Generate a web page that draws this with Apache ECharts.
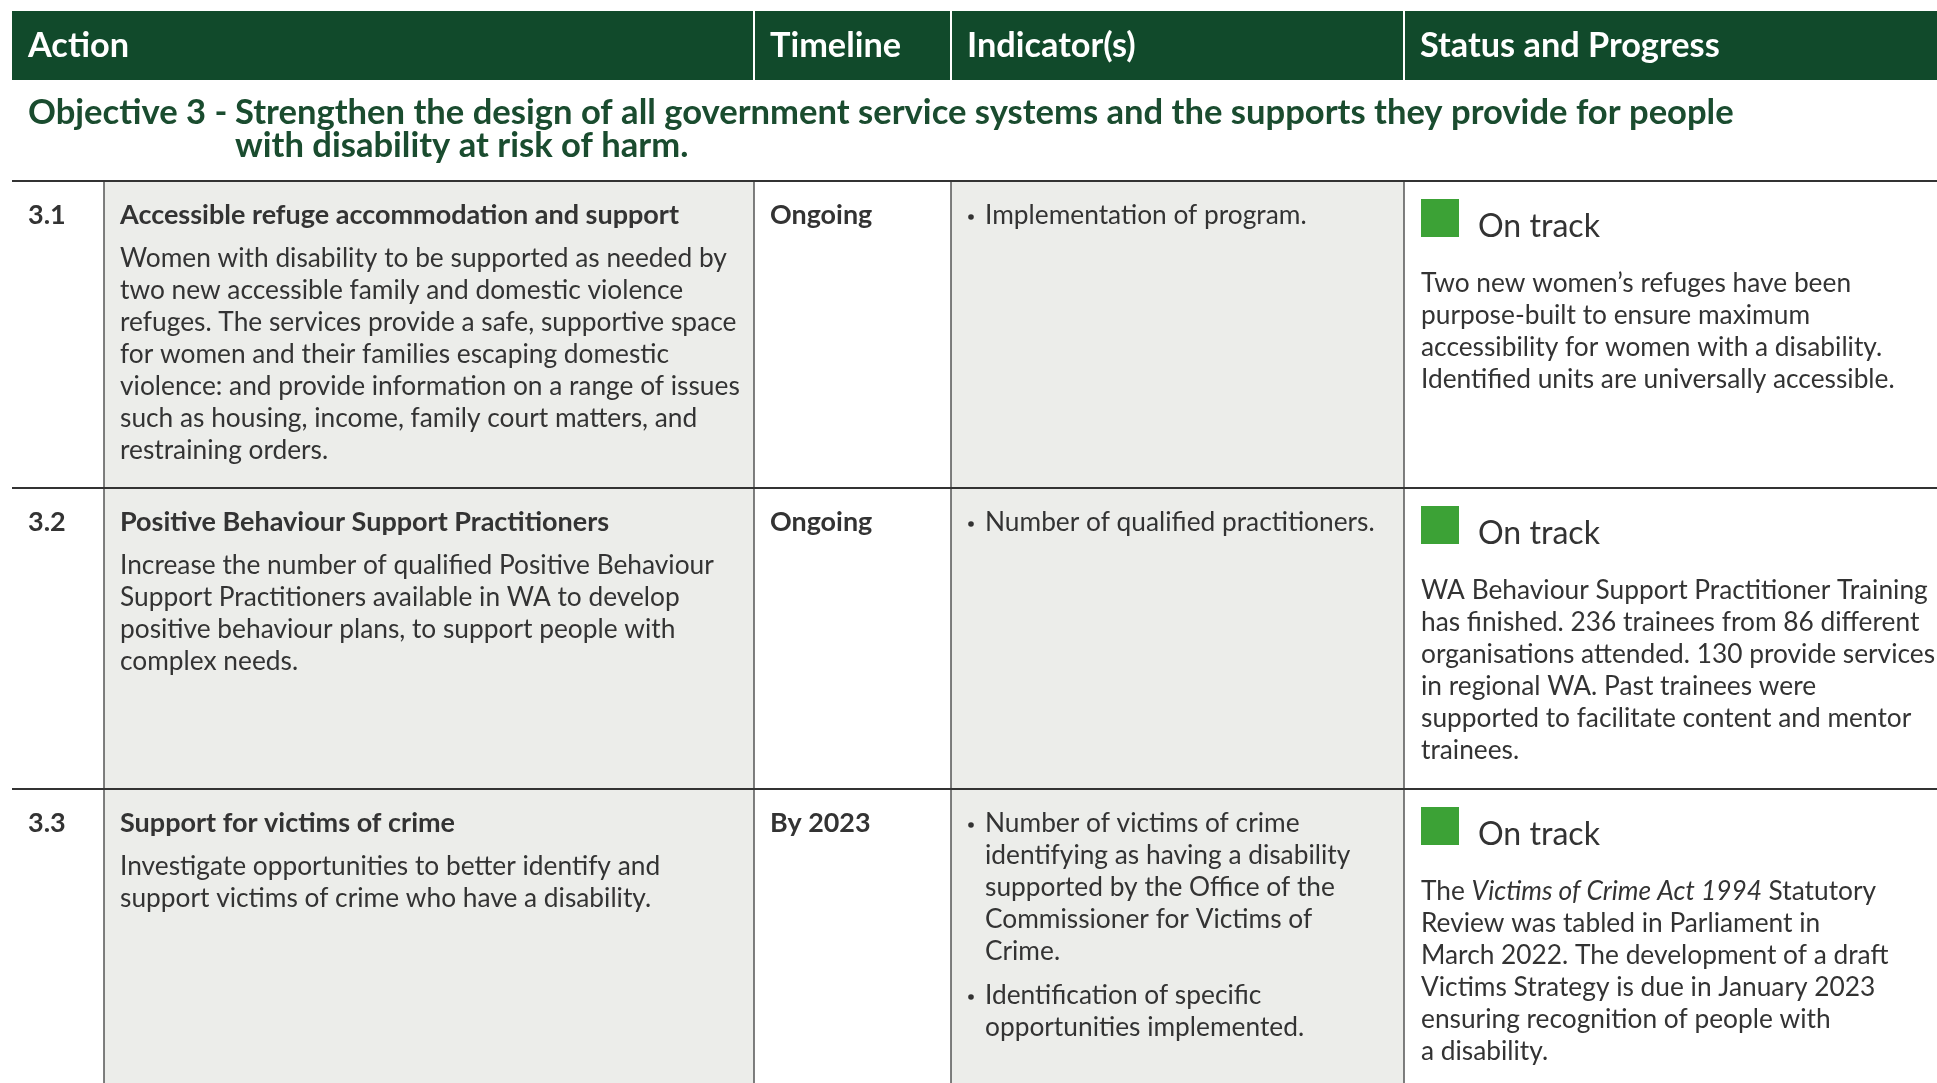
<!DOCTYPE html>
<html>
<head>
<meta charset="utf-8">
<script src="https://cdn.jsdelivr.net/npm/echarts@6/dist/echarts.min.js"></script>
<style>
html,body{margin:0;padding:0;background:#ffffff;}
#chart{width:1937px;height:1083px;}
</style>
</head>
<body>
<div id="chart"></div>
<script>
// ---------------- DATA ----------------
const headers = ['Action', 'Timeline', 'Indicator(s)', 'Status and Progress'];
const objectiveLabel = 'Objective 3 -';
const objectiveLines = [
  'Strengthen the design of all government service systems and the supports they provide for people',
  'with disability at risk of harm.'
];
const actionIds = ['3.1', '3.2', '3.3'];
const actionTitles = [
  'Accessible refuge accommodation and support',
  'Positive Behaviour Support Practitioners',
  'Support for victims of crime'
];
const actionDescriptions = [
  ['Women with disability to be supported as needed by',
   'two new accessible family and domestic violence',
   'refuges. The services provide a safe, supportive space',
   'for women and their families escaping domestic',
   'violence: and provide information on a range of issues',
   'such as housing, income, family court matters, and',
   'restraining orders.'],
  ['Increase the number of qualified Positive Behaviour',
   'Support Practitioners available in WA to develop',
   'positive behaviour plans, to support people with',
   'complex needs.'],
  ['Investigate opportunities to better identify and',
   'support victims of crime who have a disability.']
];
const timelines = ['Ongoing', 'Ongoing', 'By 2023'];
const indicators = [
  [['Implementation of program.']],
  [['Number of qualified practitioners.']],
  [['Number of victims of crime',
    'identifying as having a disability',
    'supported by the Office of the',
    'Commissioner for Victims of',
    'Crime.'],
   ['Identification of specific',
    'opportunities implemented.']]
];
const statuses = ['On track', 'On track', 'On track'];
const progressNotes = [
  ['Two new women\u2019s refuges have been',
   'purpose-built to ensure maximum',
   'accessibility for women with a disability.',
   'Identified units are universally accessible.'],
  ['WA Behaviour Support Practitioner Training',
   'has finished. 236 trainees from 86 different',
   'organisations attended. 130 provide services',
   'in regional WA. Past trainees were',
   'supported to facilitate content and mentor',
   'trainees.'],
  ['The {i|Victims of Crime Act 1994} Statutory',
   'Review was tabled in Parliament in',
   'March 2022. The development of a draft',
   'Victims Strategy is due in January 2023',
   'ensuring recognition of people with',
   'a disability.']
];

// ---------------- LAYOUT / STYLE ----------------
const W = 1937, H = 1083;
const L = {
  headerTop: 11, headerBottom: 80,
  headerCols: [12, 754, 951, 1404, W],
  bodyCols: [12, 104, 754, 951, 1404, W],
  rowTops: [181, 488, 789],
  tableBottom: H + 40,
  lineH: 32
};
const C = {
  header: '#114a2b', objective: '#1a4c2f', text: '#333333',
  shade: '#ecedea', rule: '#333333', vrule: '#555555',
  status: '#3ca236', white: '#ffffff'
};
const FONT = 'Lato';

// fit font sizes to the reference's text widths
const mctx = document.createElement('canvas').getContext('2d');
function fit(weight, samples) {
  let s = 0;
  samples.forEach(function (p) {
    mctx.font = weight + ' 100px ' + FONT;
    s += 100 * p[1] / mctx.measureText(p[0]).width;
  });
  return Math.round(s / samples.length * 10) / 10;
}
const S = {
  header: fit('bold', [['Action', 99], ['Timeline', 127], ['Indicator(s)', 175], ['Status and Progress', 304]]),
  objective: fit('bold', [[objectiveLabel + ' ' + objectiveLines[0], 1707]]),
  title: fit('bold', [[actionTitles[0], 560], [actionTitles[1], 488]]),
  timeline: fit('bold', [['Ongoing', 103], ['By 2023', 100]]),
  body: fit('normal', [[actionDescriptions[0][0], 609], [progressNotes[0][0], 432],
                       [indicators[1][0][0], 386], [progressNotes[0][3], 472]]),
  status: fit('normal', [['On track', 122]])
};

// ---------------- HELPERS ----------------
function mk(api) {
  return {
    rect: function (x0, y0, x1, y1, fill) {
      const a = api.coord([x0, y0]), b = api.coord([x1, y1]);
      return { type: 'rect', shape: { x: a[0], y: a[1], width: b[0] - a[0], height: b[1] - a[1] }, style: { fill: fill } };
    },
    line: function (x0, y0, x1, y1, stroke, w) {
      const a = api.coord([x0, y0]), b = api.coord([x1, y1]);
      return { type: 'line', shape: { x1: a[0], y1: a[1], x2: b[0], y2: b[1] }, style: { stroke: stroke, lineWidth: w } };
    },
    circle: function (x, y, r, fill) {
      const p = api.coord([x, y]);
      return { type: 'circle', shape: { cx: p[0], cy: p[1], r: r }, style: { fill: fill } };
    },
    text: function (x, y, str, size, weight, color, extra) {
      const p = api.coord([x, y]);
      const style = { text: str, fill: color, fontSize: size, fontWeight: weight, fontFamily: FONT,
                      align: 'left', verticalAlign: 'middle' };
      if (extra) Object.assign(style, extra);
      return { type: 'text', x: p[0], y: p[1], style: style };
    }
  };
}

function renderHeader(params, api) {
  const g = mk(api), i = params.dataIndex;
  const x0 = L.headerCols[i], x1 = L.headerCols[i + 1];
  const ch = [g.rect(x0, L.headerTop, x1, L.headerBottom, C.header)];
  if (i > 0) ch.push(g.line(x0, L.headerTop, x0, L.headerBottom, C.white, 2));
  ch.push(g.text(x0 + 16, (L.headerTop + L.headerBottom) / 2, headers[i], S.header, 'bold', C.white));
  return { type: 'group', children: ch };
}

function renderObjective(params, api) {
  const g = mk(api), i = params.dataIndex;
  const ch = [];
  if (i === 0) ch.push(g.text(28, 113, objectiveLabel, S.objective, 'bold', C.objective));
  ch.push(g.text(235, 113 + i * 33, objectiveLines[i], S.objective, 'bold', C.objective));
  return { type: 'group', children: ch };
}

function renderRow(params, api) {
  const g = mk(api), i = params.dataIndex;
  const top = L.rowTops[i];
  const bottom = i + 1 < L.rowTops.length ? L.rowTops[i + 1] : L.tableBottom;
  const cols = L.bodyCols;
  const ch = [];
  ch.push(g.rect(cols[1], top, cols[2], bottom, C.shade));
  ch.push(g.rect(cols[3], top, cols[4], bottom, C.shade));
  for (let k = 1; k <= 4; k++) ch.push(g.line(cols[k], top, cols[k], bottom, C.vrule, 1.5));
  ch.push(g.line(cols[0], top, W, top, C.rule, 2));

  // action
  ch.push(g.text(28, top + 34, actionIds[i], S.title, 'bold', C.text));
  ch.push(g.text(120, top + 34, actionTitles[i], S.title, 'bold', C.text));
  actionDescriptions[i].forEach(function (ln, k) {
    ch.push(g.text(120, top + 78 + k * L.lineH, ln, S.body, 'normal', C.text));
  });
  // timeline
  ch.push(g.text(770, top + 34, timelines[i], S.timeline, 'bold', C.text));
  // indicators
  let y = top + 35;
  indicators[i].forEach(function (lines) {
    ch.push(g.circle(971, y + 1, 2.8, C.text));
    lines.forEach(function (ln, k) {
      ch.push(g.text(985, y + k * L.lineH, ln, S.body, 'normal', C.text));
    });
    y += lines.length * L.lineH + 12;
  });
  // status
  ch.push(g.rect(1421, top + 18, 1459, top + 56, C.status));
  ch.push(g.text(1478, top + 46, statuses[i], S.status, 'normal', C.text));
  progressNotes[i].forEach(function (ln, k) {
    const extra = {
      rich: { i: { fontStyle: 'italic', fontSize: S.body, fontFamily: FONT, fill: C.text } }
    };
    ch.push(g.text(1421, top + 103 + k * L.lineH, ln, S.body, 'normal', C.text, extra));
  });
  return { type: 'group', children: ch };
}

// ---------------- CHART ----------------
const chart = echarts.init(document.getElementById('chart'), null, { renderer: 'canvas' });
chart.setOption({
  animation: false,
  backgroundColor: '#ffffff',
  grid: { left: 0, right: 0, top: 0, bottom: 0 },
  xAxis: { type: 'value', min: 0, max: W, show: false },
  yAxis: { type: 'value', min: 0, max: H, inverse: true, show: false },
  series: [
    { type: 'custom', name: 'rows', renderItem: renderRow, clip: true,
      data: actionIds.map(function (id, i) { return { name: id, value: [i] }; }) },
    { type: 'custom', name: 'header', renderItem: renderHeader,
      data: headers.map(function (h, i) { return { name: h, value: [i] }; }) },
    { type: 'custom', name: 'objective', renderItem: renderObjective,
      data: objectiveLines.map(function (t, i) { return { name: t, value: [i] }; }) }
  ]
});
</script>
</body>
</html>
